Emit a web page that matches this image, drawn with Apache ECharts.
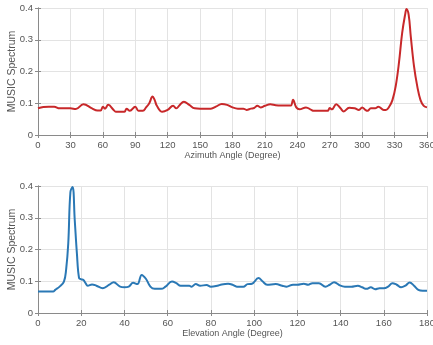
<!DOCTYPE html>
<html><head><meta charset="utf-8">
<script src="https://cdn.jsdelivr.net/npm/echarts@6/dist/echarts.min.js"></script>
<style>html,body{margin:0;padding:0;background:#fff}#c{width:433px;height:345px}</style>
</head><body><div id="c"></div>
<script>
var azDeg = [0,5,10,15,20,25,30,35,42,50,55,58,60,62,65,70,72,76,80,82,85,90,93,97,100,103,106,108,110,115,120,125,128,131,135,140,145,150,155,160,165,170,175,180,185,190,193,197,200,203,206,210,215,220,225,230,234,236,239,242,248,253,255,260,268,270,272,276,280,283,288,293,297,300,303,305,308,312,315,320,322,325,328,331,334,337,340,341,343,345,348,351,354,357,360];
var azVal = [0.084,0.088,0.089,0.089,0.084,0.084,0.084,0.082,0.097,0.084,0.077,0.077,0.089,0.083,0.095,0.079,0.073,0.073,0.073,0.083,0.076,0.089,0.076,0.076,0.087,0.1,0.121,0.11,0.092,0.073,0.079,0.092,0.084,0.094,0.105,0.095,0.084,0.083,0.083,0.083,0.09,0.098,0.095,0.087,0.083,0.083,0.079,0.083,0.085,0.092,0.087,0.092,0.097,0.094,0.093,0.093,0.093,0.111,0.087,0.081,0.087,0.079,0.076,0.076,0.076,0.085,0.081,0.097,0.084,0.074,0.086,0.084,0.079,0.087,0.079,0.076,0.084,0.084,0.089,0.079,0.079,0.089,0.11,0.153,0.226,0.321,0.384,0.397,0.379,0.31,0.216,0.153,0.11,0.092,0.087];
var elDeg = [0,3,7,8,10,12,13,14,15,16,17,18,19,20,21,22,23,25,27,30,33,35,38,40,42,44,46,48,50,52,54,57,59,62,64,66,70,71,73,75,78,80,83,85,88,90,92,95,97,99,102,104,106,110,113,115,118,120,123,125,127,130,133,135,137,140,142,145,148,150,152,154,156,158,160,162,164,166,168,170,172,174,176,178,180];
var elVal = [0.068,0.068,0.068,0.073,0.083,0.099,0.136,0.219,0.381,0.397,0.293,0.188,0.11,0.106,0.104,0.094,0.086,0.09,0.086,0.078,0.089,0.097,0.083,0.081,0.083,0.095,0.091,0.12,0.107,0.083,0.076,0.076,0.083,0.099,0.094,0.086,0.086,0.083,0.091,0.086,0.088,0.083,0.086,0.09,0.092,0.089,0.083,0.083,0.091,0.092,0.11,0.099,0.089,0.091,0.086,0.083,0.089,0.089,0.092,0.089,0.094,0.094,0.083,0.089,0.097,0.086,0.083,0.083,0.086,0.081,0.076,0.081,0.075,0.078,0.078,0.083,0.094,0.089,0.081,0.086,0.096,0.086,0.073,0.07,0.07];
var azTicks = [0,30,60,90,120,150,180,210,240,270,300,330,360];
var elTicks = [0,20,40,60,80,100,120,140,160,180];
var yTicks = [0,0.1,0.2,0.3,0.4];

function pairs(xs, ys){ return xs.map(function(x,i){ return [x, ys[i]]; }); }
var font = 'Liberation Sans, Arial, sans-serif';
var txt = '#555555';
var gridCol = '#e3e3e3';
var boxCol = '#8a8a8a';

function xAxis(gi, max, interval, name){
  return [{
    type:'value', gridIndex:gi, min:0, max:max, interval:interval,
    name:name, nameLocation:'middle', nameGap:16, nameMoveOverlap:false,
    nameTextStyle:{color:txt, fontSize:9, fontFamily:font},
    axisLine:{show:true, lineStyle:{color:boxCol, width:1}},
    axisTick:{show:true, inside:true, length:3, lineStyle:{color:boxCol}},
    axisLabel:{color:txt, fontSize:9.5, fontFamily:font, margin:5},
    splitLine:{show:true, lineStyle:{color:gridCol, width:1}}
  },{
    type:'value', gridIndex:gi, position:'top', min:0, max:max, interval:interval,
    axisLine:{show:true, lineStyle:{color:boxCol, width:1}},
    axisTick:{show:true, inside:true, length:3, lineStyle:{color:boxCol}},
    axisLabel:{show:false}, splitLine:{show:false}
  }];
}
function yAxis(gi){
  return [{
    type:'value', gridIndex:gi, min:0, max:0.4, interval:0.1,
    name:'MUSIC Spectrum', nameLocation:'middle', nameGap:20, nameRotate:90, nameMoveOverlap:false,
    nameTextStyle:{color:txt, fontSize:10.5, fontFamily:font},
    axisLine:{show:true, lineStyle:{color:boxCol, width:1}},
    axisTick:{show:true, inside:true, length:3, lineStyle:{color:boxCol}},
    axisLabel:{color:txt, fontSize:9.5, fontFamily:font, margin:5,
      formatter:function(v){ return yTicks.indexOf(+v.toFixed(1))>=0 ? String(+v.toFixed(1)) : ''; }},
    splitLine:{show:true, lineStyle:{color:gridCol, width:1}}
  },{
    type:'value', gridIndex:gi, position:'right', min:0, max:0.4, interval:0.1,
    axisLine:{show:true, lineStyle:{color:boxCol, width:1}},
    axisTick:{show:true, inside:true, length:3, lineStyle:{color:boxCol}},
    axisLabel:{show:false}, splitLine:{show:false}
  }];
}

var chart = echarts.init(document.getElementById('c'), null, {renderer:'canvas'});
chart.setOption({
  animation:false,
  backgroundColor:'#fff',
  grid:[
    {left:38, top:8, width:389, height:127, containLabel:false, outerBoundsMode:'none'},
    {left:38, top:186, width:389, height:127, containLabel:false, outerBoundsMode:'none'}
  ],
  xAxis: xAxis(0,360,30,'Azimuth Angle (Degree)').concat(xAxis(1,180,20,'Elevation Angle (Degree)')),
  yAxis: yAxis(0).concat(yAxis(1)),
  series:[
    {type:'line', xAxisIndex:0, yAxisIndex:0, data:pairs(azDeg, azVal), smooth:0.4, showSymbol:false,
     lineStyle:{color:'#c8282a', width:2}},
    {type:'line', xAxisIndex:2, yAxisIndex:2, data:pairs(elDeg, elVal), smooth:0.4, showSymbol:false,
     lineStyle:{color:'#2a78b5', width:2}}
  ]
});
</script></body></html>
